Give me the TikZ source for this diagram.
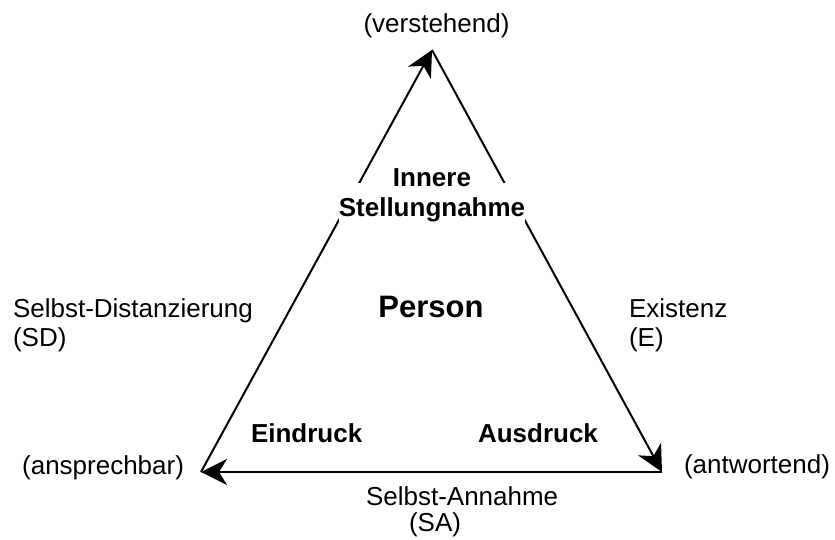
\documentclass[tikz,border=0pt]{standalone}
\usepackage{fontspec}
\setmainfont{Liberation Sans}
\usetikzlibrary{arrows.meta}

\begin{document}
\begin{tikzpicture}[x=0.5pt,y=-0.5pt,line width=1pt,
 >={Stealth[length=13pt,width=13pt,inset=4pt]},
 lbl/.style={inner sep=0pt,font=\fontsize{13}{14.5}\selectfont},
 kern/.style={inner sep=0pt,font=\fontsize{13}{15}\selectfont\bfseries}]
\useasboundingbox (0,0) rectangle (835,540);
\coordinate (oben) at (432,50);
\coordinate (links) at (201,472);
\coordinate (rechts) at (662,472);
\draw[->] (links)--(oben);
\draw[->] (oben)--(rechts);
\draw[->] (rechts)--(links);
\node[kern,align=center,fill=white,text height=17pt,anchor=south] (stell) at (432,223.5) {Innere\\Stellungnahme};
\node[kern,font=\fontsize{15.5}{18}\selectfont\bfseries,anchor=base] (person) at (431,317) {Person};
\node[kern,anchor=base west] (ein) at (250,442) {Eindruck};
\node[kern,anchor=base west] (aus) at (477,442) {Ausdruck};
\node[lbl,anchor=base] (verst) at (436.5,33) {(verstehend)};
\node[lbl,anchor=base east] (ansp) at (185,474) {(ansprechbar)};
\node[lbl,anchor=base west] (antw) at (683,473) {(antwortend)};
\node[lbl,align=left,anchor=north west] (sd) at (12,298) {Selbst-Distanzierung\\(SD)};
\node[lbl,align=left,anchor=north west] (ex) at (628,298) {Existenz\\(E)};
\node[lbl,align=left,anchor=north west] (sa) at (365,486) {Selbst-Annahme\\[-1.5pt]\hspace*{21.5pt}(SA)};
\end{tikzpicture}
\end{document}
